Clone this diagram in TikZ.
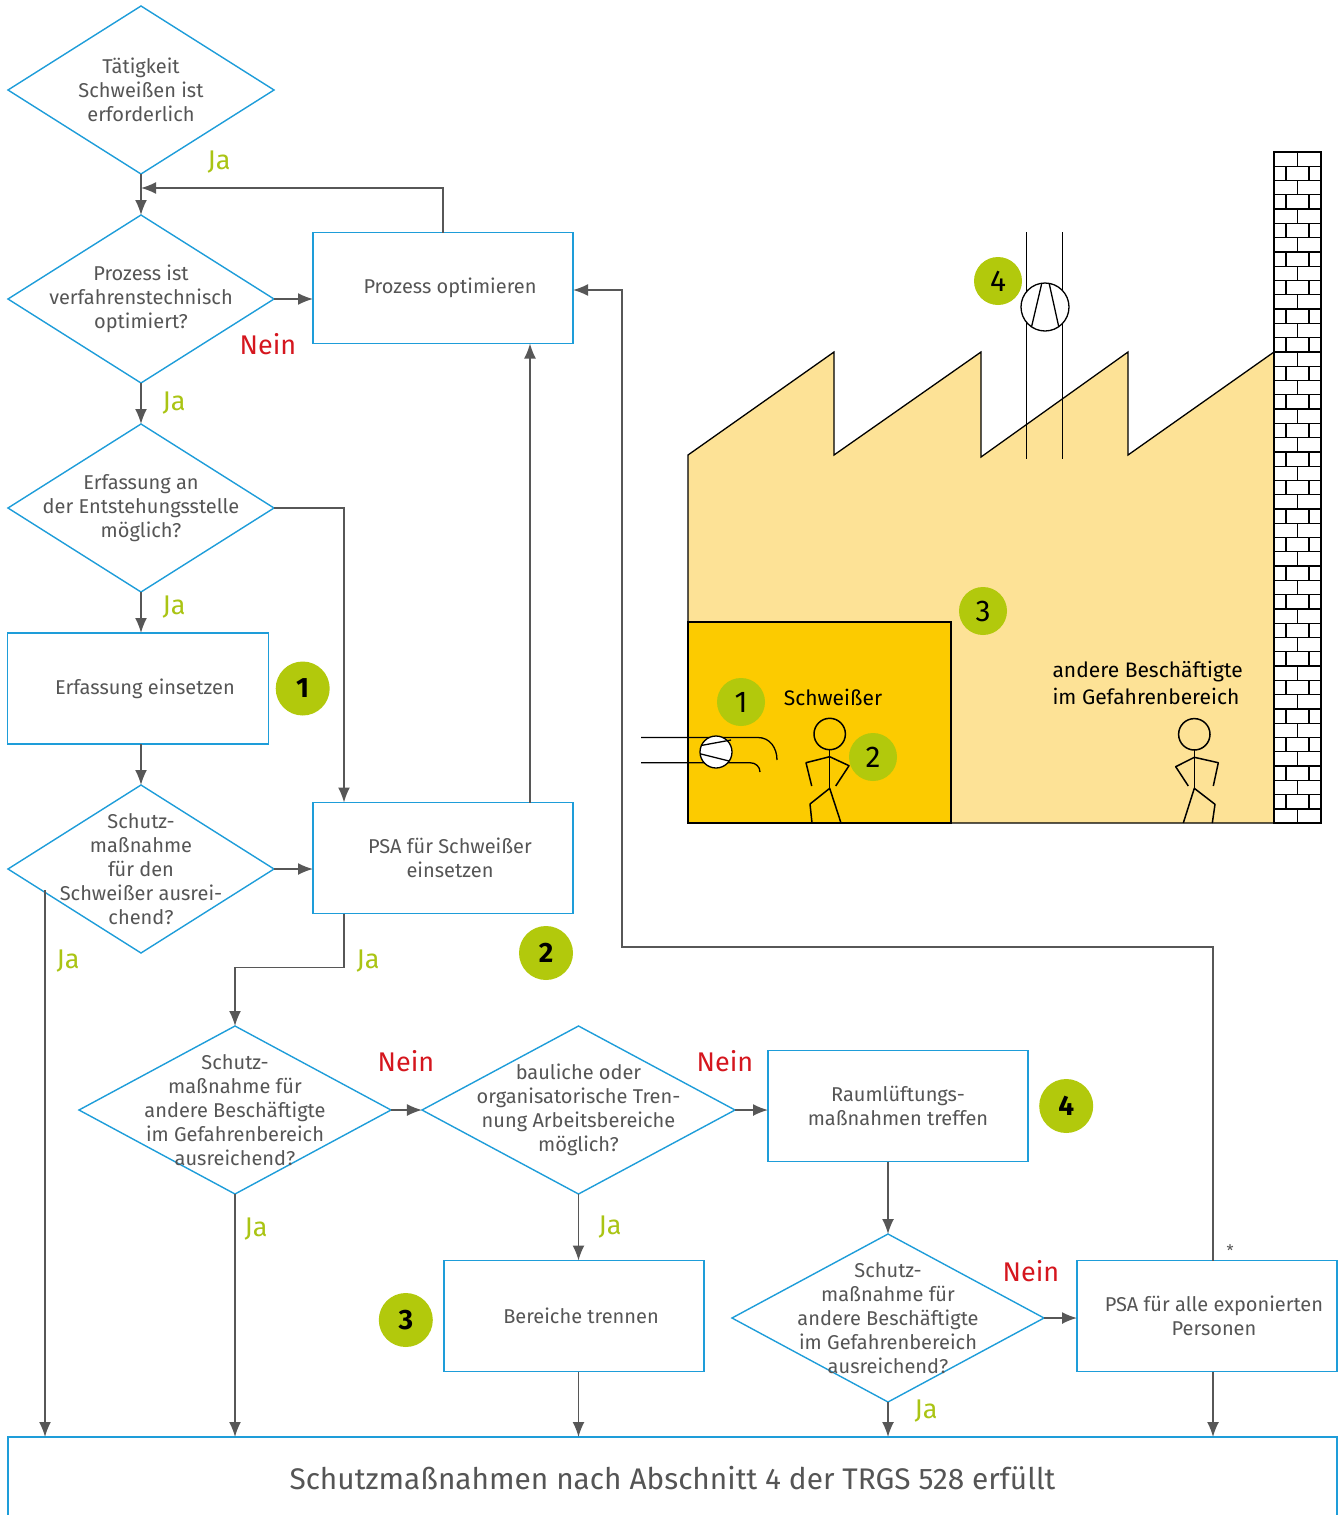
\documentclass[tikz,border=0pt]{standalone}
\usepackage{fontspec}
\setmainfont{Fira Sans}
\usetikzlibrary{arrows.meta,positioning,shapes.geometric}

\definecolor{boxblue}{RGB}{30,157,217}
\definecolor{linegray}{RGB}{87,87,87}
\definecolor{textgray}{RGB}{85,85,85}
\definecolor{jagreen}{RGB}{170,196,20}
\definecolor{badgegreen}{RGB}{178,201,12}
\definecolor{neinred}{RGB}{213,22,30}
\definecolor{hallgelb}{RGB}{253,226,150}
\definecolor{raumgelb}{RGB}{252,203,0}

\newcommand\boxfont{\fontsize{20}{24}\selectfont}
\newcommand\antwortfont{\fontsize{27}{30}\selectfont}
\newcommand\zielfont{\fontsize{29.8}{34}\selectfont}
\newcommand\badgefont{\fontsize{28}{34}\selectfont\bfseries}
\newcommand\markefont{\fontsize{30}{36}\selectfont}
\newcommand\hallfont{\fontsize{21}{27}\selectfont}

\begin{document}
\begin{tikzpicture}[x=1pt,y=-1pt,node distance=41pt,
  flow/.style={draw=linegray,line width=1.6pt,-{Latex[length=15pt,width=12pt]}},
  process/.style={rectangle,draw=boxblue,line width=1.4pt,minimum width=260pt,minimum height=111pt,
    text=textgray,font=\boxfont,align=center,inner sep=0pt,outer sep=0pt},
  boxtext/.style={text=textgray,font=\boxfont,align=center},
  shifted/.style={label={[boxtext,xshift=7pt]center:{#1}}},
  decision/.style={diamond,draw=boxblue,line width=1.4pt,minimum width=266pt,minimum height=168pt,
    inner sep=0pt,outer sep=0pt},
  question/.style={text=textgray,font=\boxfont,align=center},
  ja/.style={text=jagreen,font=\antwortfont},
  nein/.style={text=neinred,font=\antwortfont},
  badge/.style={circle,fill=badgegreen,minimum size=54pt,inner sep=0pt,font=\badgefont},
  marke/.style={circle,fill=badgegreen,minimum size=48pt,inner sep=0pt,font=\markefont},
  wall/.style={draw=black,line width=1.3pt},
  figur/.style={draw=black,line width=1.5pt,line join=round},
  hallschrift/.style={text=black,font=\hallfont}]

\useasboundingbox (0,0) rectangle (1340,1515);
\clip (0,0) rectangle (1340,1515);

% Ablauf
\node[decision,label={[question]center:{Tätigkeit\\Schweißen ist\\erforderlich}}] (taetig) at (141,90) {};
\node[decision,label={[question]center:{Prozess ist\\verfahrenstechnisch\\optimiert?}}] (optimiert) [below=of taetig] {};
\node[decision,label={[question]center:{Erfassung an\\der Entstehungsstelle\\möglich?}}] (erfassung) [below=of optimiert] {};
\node[process,minimum width=261pt,shifted={Erfassung einsetzen}] (einsetzen) [below=of erfassung,xshift=-3pt] {};
\node[decision,label={[question]center:{Schutz-\\maßnahme\\für den\\Schweißer ausrei-\\chend?}}] (schweisser) [below=of einsetzen,xshift=3pt] {};

\node[process,shifted={Prozess optimieren}] (prozess) at (443,288) {};
\node[process,shifted={PSA für Schweißer\\einsetzen}] (psaschw) at (443,858) {};

\node[decision,minimum width=312pt,label={[question]center:{Schutz-\\maßnahme für\\andere Beschäftigte\\im Gefahrenbereich\\ausreichend?}}] (andere) at (235,1110) {};
\node[decision,minimum width=313pt,label={[question]center:{bauliche oder\\organisatorische Tren-\\nung Arbeitsbereiche\\möglich?}}] (trennung) [right=31pt of andere] {};
\node[process] (raum) [right=33pt of trennung,yshift=4pt] {Raumlüftungs-\\maßnahmen treffen};
\node[process,shifted={Bereiche trennen}] (bereiche) at (574,1316) {};
\node[decision,minimum width=312pt,label={[question]center:{Schutz-\\maßnahme für\\andere Beschäftigte\\im Gefahrenbereich\\ausreichend?}}] (schutzalle) at (888,1318) {};
\node[process,shifted={PSA für alle exponierten\\Personen}] (psaalle) [right=33pt of schutzalle,yshift=2pt] {};
\node[process,minimum width=1329pt,minimum height=82pt,font=\zielfont] (ziel) at (672.5,1478) {Schutzmaßnahmen nach Abschnitt 4 der TRGS 528 erfüllt};

\node[badge] (nr1) [right=7pt of einsetzen] {1};
\node[badge] (nr2) at (546,953) {2};
\node[badge] (nr3) [left=11pt of bereiche,yshift=-4pt] {3};
\node[badge] (nr4) [right=11pt of raum] {4};

\coordinate (rueck) at (141,188);
\coordinate (jaschw) at (45,890);
\coordinate (umweg) at (622,947);

% Verbindungen
\draw[flow] (taetig) -- (optimiert);
\draw[flow] (prozess.north) |- (rueck);
\draw[flow] (optimiert.east) -- (optimiert.east -| prozess.west);
\draw[flow] (optimiert) -- (erfassung);
\draw[flow] (erfassung.east) -| ([xshift=31pt]psaschw.north west);
\draw[flow] (erfassung.south) -- (erfassung.south |- einsetzen.north);
\draw[flow] (einsetzen.south -| schweisser.north) -- (schweisser.north);
\draw[flow] (schweisser.east) -- (schweisser.east -| psaschw.west);
\draw[flow] (jaschw) -- (jaschw |- ziel.north);
\draw[flow] ([xshift=-43pt]psaschw.north east) -- ([xshift=-43pt]prozess.south east);
\draw[flow] ([xshift=31pt]psaschw.south west) -- ++(0,54) -| (andere.north);
\draw[flow] (andere) -- (trennung);
\draw[flow] (andere.south) -- (andere.south |- ziel.north);
\draw[flow] (trennung.east) -- (trennung.east -| raum.west);
\draw[flow] (trennung.south) -- (trennung.south |- bereiche.north);
\draw[flow] (trennung.south |- bereiche.south) -- (trennung.south |- ziel.north);
\draw[flow] (raum.south -| schutzalle.north) -- (schutzalle.north);
\draw[flow] (schutzalle.east) -- (schutzalle.east -| psaalle.west);
\draw[flow] (schutzalle.south) -- (schutzalle.south |- ziel.north);
\draw[flow] ([xshift=6pt]psaalle.south) -- ([xshift=6pt]psaalle.south |- ziel.north);
\draw[flow] ([xshift=6pt]psaalle.north) |- (umweg) |- ([yshift=-2pt]prozess.east);

\node[ja] (ja1) at (219,162) {Ja};
\node[nein] (nein1) at (268,344) {Nein};
\node[ja] (ja2) at (174,403) {Ja};
\node[ja] (ja3) at (174,607) {Ja};
\node[ja] (ja4) at (68,961) {Ja};
\node[ja] (ja5) at (368,961) {Ja};
\node[nein] (nein2) at (406,1061) {Nein};
\node[ja] (ja6) at (256,1229) {Ja};
\node[nein] (nein3) at (725,1061) {Nein};
\node[ja] (ja7) at (610,1227) {Ja};
\node[nein] (nein4) at (1031,1271) {Nein};
\node[ja] (ja8) at (926,1411) {Ja};
\node[text=textgray,font=\fontsize{16}{18}\selectfont] (stern) at (1230,1251) {*};

% Halle
\fill[hallgelb] (688,823) -- (688,455) -- (834,352) -- (834,455) -- (981,352) -- (981,457)
  -- (1128,352) -- (1128,455) -- (1274,352) -- (1274,823) -- cycle;
\filldraw[fill=raumgelb,wall] (688,622) rectangle (951,823);
\draw[wall,line join=miter] (688,823) -- (688,455) -- (834,352) -- (834,455) -- (981,352) -- (981,457)
  -- (1128,352) -- (1128,455) -- (1274,352) -- (1274,823) -- cycle;

% Abluft
\draw[wall] (1026.7,232) -- (1026.7,459) (1062.5,232) -- (1062.5,459);
\filldraw[fill=white,wall] (1045,307) circle[radius=24pt];
\draw[wall] (1031.5,327) -- (1041.6,284) (1049.3,284) -- (1058.8,327);

% Schornstein
\fill[white] (1274,152) rectangle (1321,823);
\begin{scope}
  \clip (1274,152) rectangle (1321,823);
  \foreach \r in {0,...,46} {
    \pgfmathsetmacro\ytop{152+\r*14.28}
    \draw[wall] (1274,\ytop) -- (1321,\ytop);
    \ifodd\r
      \draw[wall] (1286,\ytop) -- ++(0,14.28) (1309,\ytop) -- ++(0,14.28);
    \else
      \draw[wall] (1297.5,\ytop) -- ++(0,14.28);
    \fi
  }
\end{scope}
\draw[wall] (1274,152) rectangle (1321,823);

% Absaugung
\draw[wall] (641,737.5) -- (758,737.5) .. controls (770,737.5) and (777,748) .. (777,760);
\draw[wall] (641,762.7) -- (750,762.7) .. controls (756,762.7) and (760,767) .. (760,772);
\filldraw[fill=white,wall] (716,752) circle[radius=16pt];
\draw[wall] (701,745.5) -- (731,740) (701,754) -- (729,761);

% Personen
\draw[figur] (829.7,734) circle[radius=15.7pt];
\draw[figur] (829.7,749.7) -- (829.7,788.3);
\draw[figur] (811.7,786) -- (806,762.7) -- (829.7,756.7) -- (849,765.7) -- (835.7,786);
\draw[figur] (812,823) -- (810,804) -- (829.7,788.3) -- (841,823);

\draw[figur] (1194.3,734.3) circle[radius=15.7pt];
\draw[figur] (1194.3,750) -- (1194.3,788.3);
\draw[figur] (1188.3,786) -- (1175.7,766.7) -- (1194.3,757.3) -- (1218.3,762.7) -- (1213.3,786);
\draw[figur] (1183.3,823) -- (1194.3,788.3) -- (1215,804.3) -- (1212.3,823);

\node[hallschrift] (schweisserlabel) at (833,697) {Schweißer};
\node[hallschrift,anchor=west,align=left] (anderelabel) at (1049,683) {andere Beschäftigte\\im Gefahrenbereich};

\node[marke] (m1) at (741,702) {1};
\node[marke] (m2) at (873,757) {2};
\node[marke] (m3) at (983,611) {3};
\node[marke] (m4) at (998,281) {4};

\end{tikzpicture}
\end{document}
